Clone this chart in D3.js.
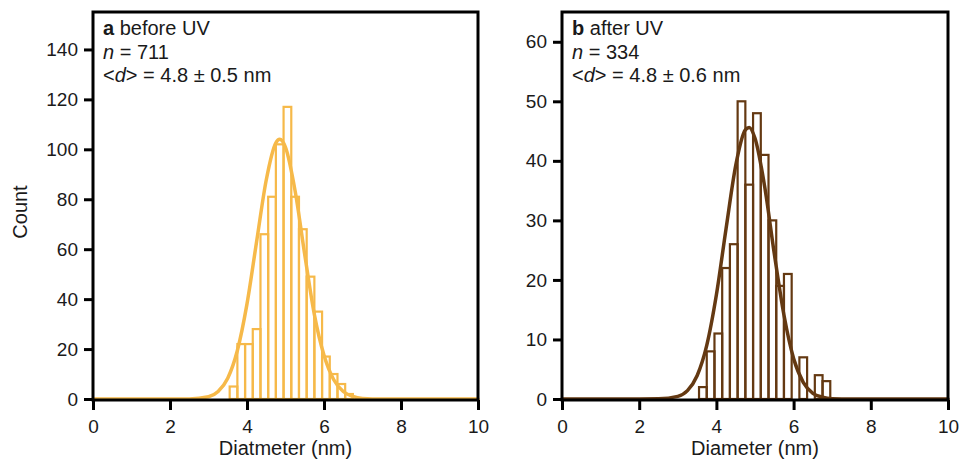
<!DOCTYPE html>
<html>
<head>
<meta charset="utf-8">
<script src="https://cdn.jsdelivr.net/npm/d3@7"></script>
<style>
  body { margin: 0; background: #fff; }
  svg { display: block; font-family: "Liberation Sans", Arial, sans-serif; }
  text { white-space: pre; }
</style>
</head>
<body>
<svg width="963" height="461"></svg>
<script>
const BIN_WIDTH = 0.2;
const BEFORE_BINS = [3.55, 3.75, 3.95, 4.15, 4.35, 4.55, 4.75, 4.95, 5.15, 5.35, 5.55, 5.75, 5.95, 6.15, 6.35, 6.55];
const BEFORE_COUNTS = [5, 22, 22, 28, 66, 81, 102, 117, 81, 68, 49, 35, 17, 10, 6, 2];
const AFTER_BINS = [3.55, 3.75, 3.95, 4.15, 4.35, 4.55, 4.75, 4.95, 5.15, 5.35, 5.55, 5.75, 5.95, 6.15, 6.35, 6.55, 6.75];
const AFTER_COUNTS = [2, 8, 11, 22, 26, 50, 36, 48, 41, 30, 19, 21, 0, 7, 0, 4, 3];

// fitted curve, sampled by eye
const FIT_X = [0, 1, 2, 2.5, 3, 3.25, 3.5, 3.75, 4, 4.25, 4.5, 4.75, 4.85, 5, 5.25, 5.5, 5.75, 6, 6.25, 6.5, 6.75, 7, 7.5, 8, 9, 10];
const BEFORE_FIT = [0, 0, 0, 0.05, 0.9, 3.0, 8.3, 19.4, 38.1, 63.1, 87.7, 102.6, 104, 100.8, 83.3, 57.8, 33.8, 17.5, 7.8, 3.0, 1.0, 0.25, 0, 0, 0, 0];
const AFTER_FIT = [0, 0, 0, 0.03, 0.45, 1.4, 3.9, 9.0, 17.5, 28.6, 39.2, 45.2, 45.6, 43.8, 35.7, 24.4, 14.1, 6.8, 2.8, 0.95, 0.3, 0.06, 0, 0, 0, 0];

const X_TICKS = [0, 2, 4, 6, 8, 10];
const BEFORE_Y_TICKS = [0, 20, 40, 60, 80, 100, 120, 140];
const AFTER_Y_TICKS = [0, 10, 20, 30, 40, 50, 60];

const TOP = 12, BOTTOM = 399;
const svg = d3.select('svg');

const PANELS = [
  { left: 93, right: 478, yMax: 155, yTicks: BEFORE_Y_TICKS, bins: BEFORE_BINS, counts: BEFORE_COUNTS,
    fit: BEFORE_FIT, color: '#F6B949', tag: 'a', title: ' before UV', n: '711', sd: '0.5', xLabel: 'Diatmeter (nm)' },
  { left: 562, right: 948, yMax: 65, yTicks: AFTER_Y_TICKS, bins: AFTER_BINS, counts: AFTER_COUNTS,
    fit: AFTER_FIT, color: '#643912', tag: 'b', title: ' after UV', n: '334', sd: '0.6', xLabel: 'Diameter (nm)' }
];

PANELS.forEach(p => {
  const x = d3.scaleLinear().domain([0, 10]).range([p.left, p.right]);
  const y = d3.scaleLinear().domain([0, p.yMax]).range([BOTTOM, TOP]);
  const g = svg.append('g');

  // BARS
  const bins = p.bins.map((b, i) => ({ x0: b, n: p.counts[i] })).filter(d => d.n > 0);
  g.selectAll('.bar')
    .data(bins)
    .enter()
    .append('rect')
    .classed('bar', true)
    .attr('x', d => x(d.x0))
    .attr('width', d => x(d.x0 + BIN_WIDTH) - x(d.x0))
    .attr('y', d => y(d.n))
    .attr('height', d => y(0) - y(d.n))
    .attr('fill', 'none')
    .attr('stroke', p.color)
    .attr('stroke-width', 2.2);

  // FIT CURVE
  const line = d3.line()
    .x(d => x(d[0]))
    .y(d => y(d[1]))
    .curve(d3.curveMonotoneX);
  g.append('path')
    .datum(FIT_X.map((v, i) => [v, p.fit[i]]))
    .attr('d', line)
    .attr('fill', 'none')
    .attr('stroke', p.color)
    .attr('stroke-width', 3.5)
    .attr('stroke-linecap', 'round');

  // FRAME
  g.append('rect')
    .attr('x', p.left)
    .attr('y', TOP)
    .attr('width', p.right - p.left)
    .attr('height', BOTTOM + 1 - TOP)
    .attr('fill', 'none')
    .attr('stroke', '#000')
    .attr('stroke-width', 3);

  // AXES
  const xAxis = g.append('g')
    .attr('transform', `translate(0, ${BOTTOM + 1})`)
    .call(d3.axisBottom(x).tickValues(X_TICKS).tickSize(10).tickSizeOuter(0));
  xAxis.select('.domain').remove();
  xAxis.attr('font-size', null).attr('font-family', null);
  xAxis.selectAll('line').attr('stroke', '#000').attr('stroke-width', 3);
  xAxis.selectAll('text')
    .attr('y', 33)
    .attr('dy', null)
    .attr('font-size', 19)
    .attr('fill', '#1a1a1a');

  const yAxis = g.append('g')
    .attr('transform', `translate(${p.left}, 0)`)
    .call(d3.axisLeft(y).tickValues(p.yTicks).tickSize(9).tickPadding(6).tickSizeOuter(0));
  yAxis.select('.domain').remove();
  yAxis.attr('font-size', null).attr('font-family', null);
  yAxis.selectAll('line').attr('stroke', '#000').attr('stroke-width', 3);
  yAxis.selectAll('text')
    .attr('font-size', 19)
    .attr('fill', '#1a1a1a');

  // AXIS TITLE
  g.append('text')
    .text(p.xLabel)
    .attr('x', (p.left + p.right) / 2)
    .attr('y', 455)
    .attr('text-anchor', 'middle')
    .attr('font-size', 20)
    .attr('fill', '#1a1a1a');

  // PANEL NOTES
  const tx = p.left + 10;
  const t1 = g.append('text').attr('x', tx).attr('y', 35).attr('font-size', 20).attr('fill', '#1a1a1a');
  t1.append('tspan').attr('font-weight', 'bold').text(p.tag);
  t1.append('tspan').text(p.title);
  const t2 = g.append('text').attr('x', tx).attr('y', 59).attr('font-size', 20).attr('fill', '#1a1a1a');
  t2.append('tspan').attr('font-style', 'italic').text('n');
  t2.append('tspan').text(' = ' + p.n);
  const t3 = g.append('text').attr('x', tx).attr('y', 82).attr('font-size', 20).attr('fill', '#1a1a1a');
  t3.append('tspan').text('<');
  t3.append('tspan').attr('font-style', 'italic').text('d');
  t3.append('tspan').text('> = 4.8 \u00b1 ' + p.sd + ' nm');
});

svg.append('text')
  .text('Count')
  .attr('transform', 'translate(27, 212) rotate(-90)')
  .attr('text-anchor', 'middle')
  .attr('font-size', 20)
  .attr('fill', '#1a1a1a');
</script>
</body>
</html>
